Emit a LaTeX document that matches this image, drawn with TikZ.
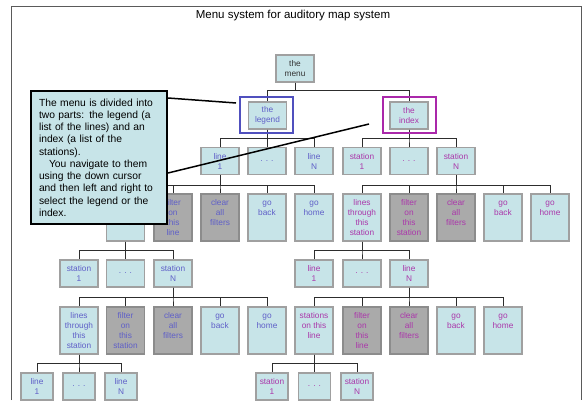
\documentclass[tikz,border=0pt]{standalone}
\usepackage{fontspec}
\setmainfont{Liberation Sans}

\definecolor{boxfill}{RGB}{199,228,232}
\definecolor{boxline}{RGB}{160,160,160}
\definecolor{greyfill}{RGB}{170,170,170}
\definecolor{greyline}{RGB}{140,140,140}
\definecolor{legtext}{RGB}{95,95,200}
\definecolor{idxtext}{RGB}{170,55,170}
\definecolor{legframe}{RGB}{80,80,190}
\definecolor{idxframe}{RGB}{170,40,170}
\definecolor{linkc}{RGB}{45,45,45}
\definecolor{framec}{RGB}{90,90,90}

\newcommand{\tall}[1]{\parbox[t][39pt][t]{36pt}{\centering\strut #1}}

\begin{document}
\begin{tikzpicture}[x=1pt, y=-1pt,
  box/.style={rectangle, draw=boxline, fill=boxfill, line width=1.1pt, minimum width=38pt,
    minimum height=27pt, inner sep=1pt, align=center, font=\fontsize{8.3}{10}\selectfont},
  tallbox/.style={box, inner ysep=4pt},
  greybox/.style={tallbox, fill=greyfill, draw=greyline},
  smallbox/.style={box, minimum width=32pt},
  leg/.style={text=legtext},
  idx/.style={text=idxtext},
  link/.style={draw=linkc, line width=0.8pt},
  pointer/.style={draw=black, line width=1.5pt}]
  \useasboundingbox (0,0) rectangle (582,400);
  \draw[draw=framec, line width=0.8pt] (11,400) -- (11,6) -- (581,6) -- (581,400);
  \node[font=\fontsize{11.5}{13}\selectfont] (title) at (293,16) {Menu system for auditory map system};

  \node[box, text=black!80] (menu) at (295,68.5) {the\\menu};
  \node[box, leg] (legend) at (267.5,115.5) {the\\legend};
  \node[box, idx] (index)  at (409,115.5) {the\\index};

  % legend side
  \node[box, leg] (l1)    at (220,161) {line\\1};
  \node[box, leg] (ldots) at (267,161) {. . .};
  \node[box, leg] (lN)    at (314,161) {line\\N};
  \node[tallbox, leg] (son) at (125.5,217.5) {\tall{stations\\on this\\line}};
  \node[greybox, leg] (fl)  at (173,217.5) {\tall{filter\\on\\this\\line}};
  \node[greybox, leg] (cl)  at (220,217.5) {\tall{clear\\all\\filters}};
  \node[tallbox, leg] (gb1) at (267,217.5) {\tall{go\\back}};
  \node[tallbox, leg] (gh1) at (314,217.5) {\tall{go\\home}};
  \node[box, leg] (st1)    at (79,273.5) {station\\1};
  \node[box, leg] (stdots) at (125.5,273.5) {. . .};
  \node[box, leg] (stN)    at (173,273.5) {station\\N};
  \node[tallbox, leg] (lts2) at (79,330.5) {\tall{lines\\through\\this\\station}};
  \node[greybox, leg] (fs2)  at (125.5,330.5) {\tall{filter\\on\\this\\station}};
  \node[greybox, leg] (cs2)  at (173,330.5) {\tall{clear\\all\\filters}};
  \node[tallbox, leg] (gb3)  at (220,330.5) {\tall{go\\back}};
  \node[tallbox, leg] (gh3)  at (267,330.5) {\tall{go\\home}};
  \node[smallbox, leg] (ln1)    at (37,386.5) {line\\1};
  \node[smallbox, leg] (lndots) at (79,386.5) {. . .};
  \node[smallbox, leg] (lnN)    at (121,386.5) {line\\N};

  % index side
  \node[box, idx] (s1)    at (362,161) {station\\1};
  \node[box, idx] (sdots) at (409,161) {. . .};
  \node[box, idx] (sN)    at (456,161) {station\\N};
  \node[tallbox, idx] (lts) at (362,217.5) {\tall{lines\\through\\this\\station}};
  \node[greybox, idx] (fs)  at (409,217.5) {\tall{filter\\on\\this\\station}};
  \node[greybox, idx] (cs)  at (456,217.5) {\tall{clear\\all\\filters}};
  \node[tallbox, idx] (gb2) at (503,217.5) {\tall{go\\back}};
  \node[tallbox, idx] (gh2) at (550,217.5) {\tall{go\\home}};
  \node[box, idx] (rl1)    at (314,273.5) {line\\1};
  \node[box, idx] (rldots) at (362,273.5) {. . .};
  \node[box, idx] (rlN)    at (409,273.5) {line\\N};
  \node[tallbox, idx] (son2) at (314,330.5) {\tall{stations\\on this\\line}};
  \node[greybox, idx] (fl2)  at (362,330.5) {\tall{filter\\on\\this\\line}};
  \node[greybox, idx] (cl2)  at (409,330.5) {\tall{clear\\all\\filters}};
  \node[tallbox, idx] (gb4)  at (456,330.5) {\tall{go\\back}};
  \node[tallbox, idx] (gh4)  at (503,330.5) {\tall{go\\home}};
  \node[smallbox, idx] (sta1)    at (272,386.5) {station\\1};
  \node[smallbox, idx] (stadots) at (314.5,386.5) {. . .};
  \node[smallbox, idx] (staN)    at (357,386.5) {station\\N};

  \draw[link] (menu.south) -- ++(0,8) -| (legend.north);
  \draw[link] (menu.south) -- ++(0,8) -| (index.north);
  \draw[link] (legend.south) -- ++(0,9) -| (l1.north);
  \draw[link] (legend.south) -- ++(0,9) -| (ldots.north);
  \draw[link] (legend.south) -- ++(0,9) -| (lN.north);
  \draw[link] (index.south) -- ++(0,9) -| (s1.north);
  \draw[link] (index.south) -- ++(0,9) -| (sdots.north);
  \draw[link] (index.south) -- ++(0,9) -| (sN.north);
  \draw[link] (l1.south) -- ++(0,10) -| (son.north);
  \draw[link] (l1.south) -- ++(0,10) -| (fl.north);
  \draw[link] (l1.south) -- ++(0,10) -| (cl.north);
  \draw[link] (l1.south) -- ++(0,10) -| (gb1.north);
  \draw[link] (l1.south) -- ++(0,10) -| (gh1.north);
  \draw[link] (sN.south) -- ++(0,10) -| (lts.north);
  \draw[link] (sN.south) -- ++(0,10) -| (fs.north);
  \draw[link] (sN.south) -- ++(0,10) -| (cs.north);
  \draw[link] (sN.south) -- ++(0,10) -| (gb2.north);
  \draw[link] (sN.south) -- ++(0,10) -| (gh2.north);
  \draw[link] (son.south) -- ++(0,9) -| (st1.north);
  \draw[link] (son.south) -- ++(0,9) -| (stdots.north);
  \draw[link] (son.south) -- ++(0,9) -| (stN.north);
  \draw[link] (lts.south) -- ++(0,9) -| (rl1.north);
  \draw[link] (lts.south) -- ++(0,9) -| (rldots.north);
  \draw[link] (lts.south) -- ++(0,9) -| (rlN.north);
  \draw[link] (stN.south) -- ++(0,10) -| (lts2.north);
  \draw[link] (stN.south) -- ++(0,10) -| (fs2.north);
  \draw[link] (stN.south) -- ++(0,10) -| (cs2.north);
  \draw[link] (stN.south) -- ++(0,10) -| (gb3.north);
  \draw[link] (stN.south) -- ++(0,10) -| (gh3.north);
  \draw[link] (rlN.south) -- ++(0,10) -| (son2.north);
  \draw[link] (rlN.south) -- ++(0,10) -| (fl2.north);
  \draw[link] (rlN.south) -- ++(0,10) -| (cl2.north);
  \draw[link] (rlN.south) -- ++(0,10) -| (gb4.north);
  \draw[link] (rlN.south) -- ++(0,10) -| (gh4.north);
  \draw[link] (lts2.south) -- ++(0,9) -| (ln1.north);
  \draw[link] (lts2.south) -- ++(0,9) -| (lndots.north);
  \draw[link] (lts2.south) -- ++(0,9) -| (lnN.north);
  \draw[link] (son2.south) -- ++(0,9) -| (sta1.north);
  \draw[link] (son2.south) -- ++(0,9) -| (stadots.north);
  \draw[link] (son2.south) -- ++(0,9) -| (staN.north);

  \node[draw=legframe, line width=1.5pt, minimum width=53pt, minimum height=36pt] (legfr) at (266.5,115) {};
  \node[draw=idxframe, line width=1.5pt, minimum width=53pt, minimum height=36pt] (idxfr) at (409.5,115) {};

  % the note on top
  \node[draw=black, fill=boxfill, line width=2pt, anchor=north west, minimum width=135pt,
    minimum height=133pt, text width=120pt, inner xsep=8pt, align=left,
    font=\fontsize{10.3}{12.26}\selectfont] (note) at (30,90)
    {The menu is divided into\\two parts: the legend (a\\list of the lines) and an\\index (a list of the\\stations).\\
     \hspace*{10pt}You navigate to them\\using the down cursor\\and then left and right to\\select the legend or the\\index.};
  \coordinate (tolegend) at (236,103);
  \coordinate (toindex) at (369,124);
  \draw[pointer] (note.east |- 0,98) -- (tolegend);
  \draw[pointer] (note.east |- 0,173) -- (toindex);
\end{tikzpicture}
\end{document}
